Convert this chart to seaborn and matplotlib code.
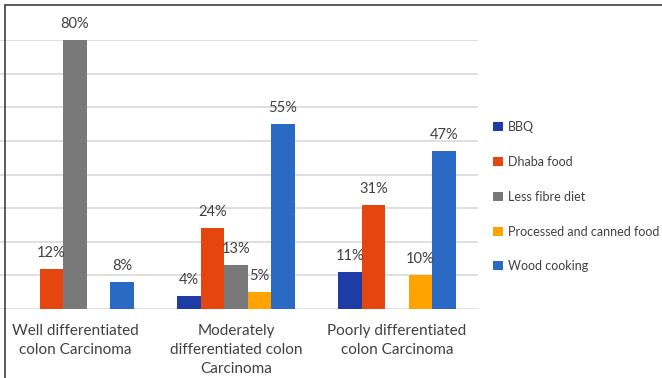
import numpy as np
import pandas as pd
import matplotlib
matplotlib.use("Agg")
import matplotlib.pyplot as plt
from matplotlib.lines import Line2D
from matplotlib.patches import Patch
import seaborn as sns

# Chart data
categories = [
    "Well differentiated\ncolon Carcinoma",
    "Moderately\ndifferentiated colon\nCarcinoma",
    "Poorly differentiated\ncolon Carcinoma",
]
series = ["BBQ", "Dhaba food", "Less fibre diet", "Processed and canned food", "Wood cooking"]
bbq = [np.nan, 0.04, 0.11]
dhaba = [0.12, 0.24, 0.31]
less_fibre = [0.80, 0.13, np.nan]
processed = [np.nan, 0.05, 0.10]
wood = [0.08, 0.55, 0.47]

colors = ["#1F3CA6", "#E5460F", "#797979", "#FFA300", "#2A69C4"]

rows = []
for name, vals in zip(series, [bbq, dhaba, less_fibre, processed, wood]):
    for cat, v in zip(categories, vals):
        rows.append({"category": cat, "series": name, "value": v})
df = pd.DataFrame(rows)

sns.set_theme(style="white")
plt.rcParams["font.family"] = ["Lato", "DejaVu Sans"]

W, H = 662, 378
fig = plt.figure(figsize=(W / 100, H / 100), dpi=100)
ax = fig.add_axes([-5.5 / W, (H - 309) / H, 483 / W, (309 - 40) / H])

sns.barplot(
    data=df.dropna(), x="category", y="value", hue="series",
    order=categories, hue_order=series, palette=colors,
    width=0.73, dodge=True, errorbar=None, ax=ax, legend=False,
    saturation=1, linewidth=0,
)

ax.set_ylim(0, 0.80)
ax.set_xlim(-0.5, 2.5)
ax.set_yticks(np.arange(0, 0.81, 0.10))
ax.yaxis.grid(True, color="#D9D9D9", linewidth=1.2)
ax.set_axisbelow(True)
ax.tick_params(axis="y", left=False, labelleft=False)
ax.tick_params(axis="x", bottom=False, pad=5, labelsize=11, colors="#404040")
ax.set_xlabel("")
ax.set_ylabel("")
for s in ["left", "right", "top", "bottom"]:
    ax.spines[s].set_visible(False)
for lbl in ax.get_xticklabels():
    lbl.set_linespacing(1.42)

# Value labels above each bar
for container in ax.containers:
    for bar in container:
        h = bar.get_height()
        if np.isnan(h) or h <= 0:
            continue
        ax.annotate(
            f"{h * 100:.0f}%",
            (bar.get_x() + bar.get_width() / 2, h),
            xytext=(0, 6.5), textcoords="offset points",
            ha="center", va="bottom", fontsize=10.5, color="#404040",
            annotation_clip=False,
        )

# Legend on the right
handles = [Patch(facecolor=c, edgecolor="none") for c in colors]
fig.legend(
    handles, series, loc="upper left", bbox_to_anchor=(482 / W, 1 - 110 / H),
    frameon=False, fontsize=9, labelspacing=1.82, handlelength=0.75,
    handleheight=0.75, handletextpad=0.4, labelcolor="#404040",
)

# Outer frame lines (top and left)
fig.add_artist(Line2D([5 / W, 1], [1 - 5 / H, 1 - 5 / H], transform=fig.transFigure,
                      color="#404040", linewidth=1.2))
fig.add_artist(Line2D([5 / W, 5 / W], [0, 1 - 5 / H], transform=fig.transFigure,
                      color="#404040", linewidth=1.2))

fig.savefig("out.png", dpi=100)
